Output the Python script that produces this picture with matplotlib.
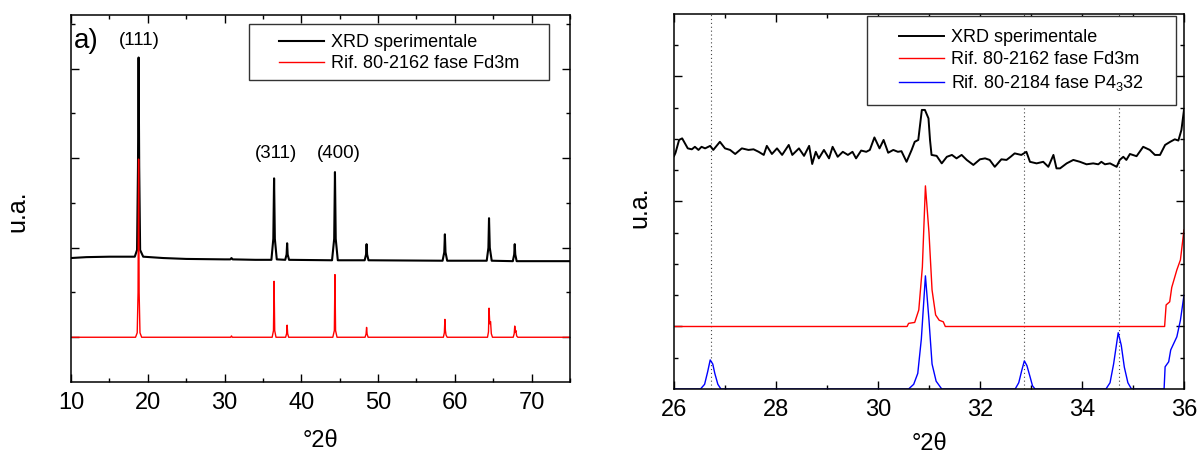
import matplotlib
matplotlib.use("Agg")
import matplotlib.pyplot as plt
from matplotlib.patches import Rectangle
from matplotlib.ticker import MultipleLocator, FixedLocator, NullFormatter

plt.rcParams['font.family'] = ['Liberation Sans', 'DejaVu Sans']
plt.rcParams['mathtext.fontset'] = 'custom'
plt.rcParams['mathtext.rm'] = 'Liberation Sans'
plt.rcParams['mathtext.default'] = 'regular'

# ---- panel a): full pattern (vertices, arbitrary units) ----
xrd_a_x = [10, 12, 15, 18.3, 18.6, 18.72, 18.8, 18.88, 19.0, 19.4, 22, 25, 30, 30.75, 30.9,
           31.05, 34, 36.1, 36.35, 36.45, 36.55, 36.8, 37.9, 38.08, 38.15, 38.22, 38.4, 44.0,
           44.28, 44.38, 44.48, 44.75, 48.25, 48.43, 48.5, 48.57, 48.75, 58.4, 58.62, 58.7,
           58.78, 59.0, 64.15, 64.37, 64.45, 64.55, 64.8, 67.55, 67.73, 67.8, 67.87, 68.05, 75]
xrd_a_y = [2.77, 2.79, 2.80, 2.80, 2.95, 4.8, 7.25, 4.8, 2.95, 2.80, 2.77, 2.75, 2.74, 2.74, 2.77,
           2.74, 2.73, 2.73, 3.2, 4.55, 3.2, 2.74, 2.73, 2.85, 3.10, 2.85, 2.73, 2.72,
           3.2, 4.69, 3.2, 2.72, 2.72, 2.85, 3.08, 2.85, 2.72, 2.71, 2.9, 3.30,
           2.9, 2.71, 2.71, 3.0, 3.66, 3.0, 2.71, 2.70, 2.85, 3.08, 2.85, 2.70, 2.70]

ref_a_x = [10, 18.4, 18.62, 18.73, 18.8, 18.87, 18.98, 19.2, 30.8, 30.9, 31.0, 36.2, 36.37, 36.45,
           36.53, 36.7, 37.95, 38.08, 38.15, 38.22, 38.35, 44.1, 44.3, 44.38, 44.46, 44.65, 48.3,
           48.43, 48.5, 48.57, 48.7, 58.5, 58.63, 58.7, 58.77, 58.85, 59.0, 64.25, 64.38, 64.45,
           64.55, 64.65, 64.75, 64.9, 67.6, 67.73, 67.8, 67.88, 67.95, 68.05, 68.2, 75]
ref_a_y = [1.0, 1.0, 1.1, 2.0, 4.98, 2.0, 1.1, 1.0, 1.0, 1.03, 1.0, 1.0, 1.15, 2.25,
           1.15, 1.0, 1.0, 1.08, 1.27, 1.08, 1.0, 1.0, 1.15, 2.40, 1.15, 1.0, 1.0,
           1.07, 1.22, 1.07, 1.0, 1.0, 1.1, 1.40, 1.15, 1.05, 1.0, 1.0, 1.12, 1.65,
           1.3, 1.35, 1.08, 1.0, 1.0, 1.08, 1.25, 1.12, 1.15, 1.03, 1.0, 1.0]

hkl_labels = ['(111)', '(311)', '(400)']
hkl_x = [18.85, 36.64, 44.86]
hkl_y = [7.63, 5.1, 5.1]

# ---- panel b): zoom 26-36 deg ----
xrd_b_x = [26.0, 26.03, 26.10, 26.16, 26.27, 26.35, 26.41, 26.48, 26.54, 26.61, 26.71, 26.77, 26.90,
           27.00, 27.10, 27.20, 27.33, 27.46, 27.56, 27.66, 27.76, 27.82, 27.92, 28.02, 28.12,
           28.25, 28.32, 28.45, 28.55, 28.65, 28.71, 28.78, 28.84, 28.94, 29.04, 29.11, 29.21,
           29.31, 29.41, 29.50, 29.57, 29.67, 29.77, 29.84, 29.93, 30.03, 30.11, 30.20, 30.30,
           30.39, 30.46, 30.56, 30.66, 30.72, 30.79, 30.86, 30.92, 30.99, 31.02, 31.05, 31.15,
           31.25, 31.35, 31.45, 31.54, 31.64, 31.74, 31.87, 32.00, 32.10, 32.19, 32.29, 32.42,
           32.52, 32.60, 32.68, 32.81, 32.91, 32.98, 33.11, 33.24, 33.34, 33.44, 33.50, 33.57,
           33.70, 33.83, 33.96, 34.09, 34.22, 34.32, 34.38, 34.45, 34.55, 34.68, 34.74, 34.81,
           34.87, 34.94, 35.07, 35.20, 35.33, 35.43, 35.53, 35.63, 35.73, 35.82, 35.89, 35.95, 36.0]
xrd_b_y = [7.45, 7.56, 7.97, 8.02, 7.70, 7.67, 7.75, 7.65, 7.75, 7.70, 7.78, 7.65, 7.91,
           7.70, 7.65, 7.52, 7.70, 7.65, 7.67, 7.59, 7.49, 7.78, 7.52, 7.70, 7.49,
           7.81, 7.49, 7.70, 7.46, 7.78, 7.20, 7.59, 7.38, 7.65, 7.38, 7.75, 7.43,
           7.59, 7.49, 7.59, 7.38, 7.63, 7.59, 7.65, 8.05, 7.70, 7.97, 7.56, 7.65,
           7.59, 7.61, 7.27, 7.65, 7.91, 7.97, 8.93, 8.93, 8.66, 7.97, 7.49, 7.46,
           7.22, 7.43, 7.49, 7.38, 7.49, 7.33, 7.17, 7.35, 7.38, 7.33, 7.11, 7.35,
           7.33, 7.43, 7.54, 7.49, 7.59, 7.27, 7.22, 7.27, 7.11, 7.49, 7.06, 7.06,
           7.22, 7.33, 7.27, 7.19, 7.22, 7.19, 7.27, 7.19, 7.22, 7.11, 7.33, 7.43,
           7.33, 7.52, 7.45, 7.75, 7.65, 7.49, 7.49, 7.81, 7.91, 7.99, 7.95, 8.29, 8.93]

ref1_b_x = [26.0, 30.57, 30.6, 30.72, 30.8, 30.87, 30.93, 31.0, 31.06, 31.13, 31.2, 31.28, 31.32,
            35.62, 35.65, 35.72, 35.76, 35.86, 35.93, 36.0]
ref1_b_y = [2.0, 2.0, 2.1, 2.13, 2.53, 3.9, 6.5, 5.0, 3.17, 2.37, 2.2, 2.15, 2.0,
            2.0, 2.69, 2.79, 3.25, 3.81, 4.13, 5.09]

ref2_b_x = [26.0, 26.52, 26.6, 26.66, 26.71, 26.76, 26.8, 26.86, 26.92,
            30.6, 30.7, 30.78, 30.85, 30.93, 31.0, 31.06, 31.14, 31.25,
            32.69, 32.76, 32.82, 32.87, 32.92, 32.98, 33.03, 33.08,
            34.47, 34.55, 34.62, 34.71, 34.77, 34.83, 34.9, 34.97,
            35.61, 35.63, 35.7, 35.74, 35.86, 35.93, 36.0]
ref2_b_y = [0, 0, 0.15, 0.55, 0.93, 0.8, 0.5, 0.15, 0,
            0, 0.15, 0.5, 1.6, 3.62, 2.2, 0.8, 0.25, 0,
            0, 0.2, 0.6, 0.9, 0.75, 0.4, 0.1, 0,
            0, 0.2, 0.8, 1.8, 1.4, 0.7, 0.2, 0,
            0, 0.71, 0.87, 1.25, 1.67, 2.2, 3.0]

marker_lines = [26.72, 32.87, 34.72]

lbl_xrd = 'XRD sperimentale'
lbl_fd3m = 'Rif. 80-2162 fase Fd3m'
lbl_p4332 = 'Rif. 80-2184 fase P4$_3$32'

fig = plt.figure(figsize=(11.98, 4.53), dpi=100)
ax1 = fig.add_axes([0.0593, 0.1567, 0.4165, 0.8102])
ax2 = fig.add_axes([0.5626, 0.1413, 0.4257, 0.8278])

for ax in (ax1, ax2):
    for s in ax.spines.values():
        s.set_linewidth(1.1)
    ax.tick_params(which='both', direction='in', top=True, right=True,
                   labelsize=17, pad=7, width=1.0)
    ax.yaxis.set_major_formatter(NullFormatter())

# panel a
ax1.plot(xrd_a_x, xrd_a_y, color='black', lw=1.5, label=lbl_xrd)
ax1.plot(ref_a_x, ref_a_y, color='red', lw=1.0, label=lbl_fd3m)
ax1.set_xlim(10, 75)
ax1.set_ylim(0, 8.2)
ax1.xaxis.set_major_locator(MultipleLocator(10))
ax1.xaxis.set_minor_locator(MultipleLocator(5))
ax1.yaxis.set_major_locator(FixedLocator([1, 3, 5, 7]))
ax1.yaxis.set_minor_locator(FixedLocator([2, 4, 6, 8]))
ax1.tick_params(which='major', length=5.5)
ax1.tick_params(which='minor', length=3)
for t, x, y in zip(hkl_labels, hkl_x, hkl_y):
    ax1.text(x, y, t, fontsize=13.5, ha='center', va='center')
ax1.text(10.4, 7.63, 'a)', fontsize=20, ha='left', va='center')
ax1.set_xlabel('°2θ', fontsize=17)
ax1.set_ylabel('u.a.', fontsize=18)
ax1.xaxis.set_label_coords(0.5, -0.13)
ax1.yaxis.set_label_coords(-0.083, 0.466)

ax1.add_patch(Rectangle((0.3557, 0.822), 0.6012, 0.1543, transform=ax1.transAxes,
                        facecolor='white', edgecolor='#333333', lw=1.0, zorder=4))
leg1 = ax1.legend(loc='upper left', bbox_to_anchor=(0.4168, 0.947), frameon=False,
                  fontsize=13, handlelength=2.5, handletextpad=0.4, borderpad=0,
                  labelspacing=0.22, borderaxespad=0)
leg1.set_zorder(5)

# panel b
for xm in marker_lines:
    ax2.axvline(xm, color='#444444', lw=0.8, linestyle=(0, (1, 2.5)), zorder=1)
ax2.plot(xrd_b_x, xrd_b_y, color='black', lw=1.4, label=lbl_xrd)
ax2.plot(ref1_b_x, ref1_b_y, color='red', lw=1.0, label=lbl_fd3m)
ax2.plot(ref2_b_x, ref2_b_y, color='blue', lw=1.0, label=lbl_p4332)
ax2.set_xlim(26, 36)
ax2.set_ylim(0, 12)
ax2.xaxis.set_major_locator(MultipleLocator(2))
ax2.xaxis.set_minor_locator(MultipleLocator(1))
ax2.yaxis.set_major_locator(FixedLocator([2, 6, 10]))
ax2.yaxis.set_minor_locator(FixedLocator([1, 3, 4, 5, 7, 8, 9, 11]))
ax2.tick_params(which='major', length=6)
ax2.tick_params(which='minor', length=3.2)
ax2.set_xlabel('°2θ', fontsize=17)
ax2.set_ylabel('u.a.', fontsize=18)
ax2.xaxis.set_label_coords(0.5, -0.118)
ax2.yaxis.set_label_coords(-0.045, 0.485)

ax2.add_patch(Rectangle((0.3784, 0.757), 0.6059, 0.2385, transform=ax2.transAxes,
                        facecolor='white', edgecolor='#333333', lw=1.0, zorder=4))
leg2 = ax2.legend(loc='upper left', bbox_to_anchor=(0.441, 0.96), frameon=False,
                  fontsize=13, handlelength=2.5, handletextpad=0.4, borderpad=0,
                  labelspacing=0.28, borderaxespad=0)
leg2.set_zorder(5)

fig.savefig('out.png', dpi=100)
